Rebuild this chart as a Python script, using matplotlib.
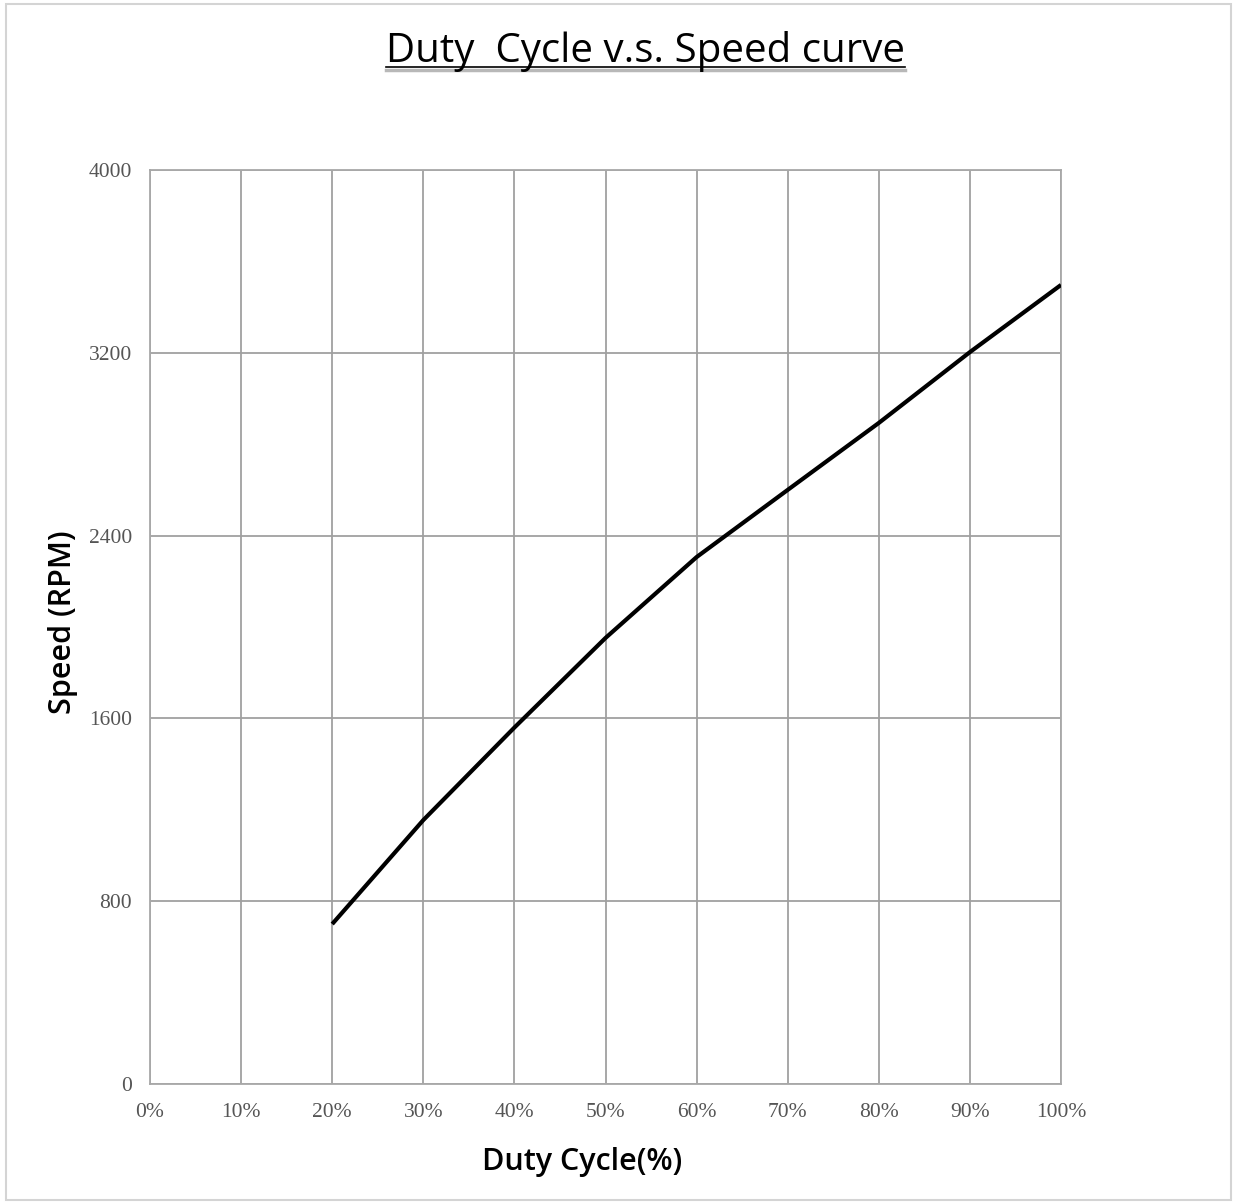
import matplotlib
matplotlib.use("Agg")
import matplotlib.pyplot as plt
from matplotlib.patches import Rectangle
from matplotlib.lines import Line2D

duty = [20, 30, 40, 50, 60, 70, 80, 90, 100]
speed = [700, 1155, 1560, 1952, 2306, 2600, 2893, 3203, 3497]
x_ticks = [0, 10, 20, 30, 40, 50, 60, 70, 80, 90, 100]
x_labels = [f"{v}%" for v in x_ticks]
y_ticks = [0, 800, 1600, 2400, 3200, 4000]

W, H = 1237, 1204
fig = plt.figure(figsize=(W / 100, H / 100), dpi=100)
ax = fig.add_axes([150 / W, (H - 1084) / H, 911 / W, 914 / H])

ax.plot(duty, speed, color="black", lw=3.0, solid_capstyle="butt", zorder=3)
ax.set_xlim(0, 100)
ax.set_ylim(0, 4000)
ax.set_xticks(x_ticks)
ax.set_xticklabels(x_labels)
ax.set_yticks(y_ticks)
ax.tick_params(length=0, labelsize=15.5, labelcolor="#555555")
ax.tick_params(axis="x", pad=13.5)
ax.tick_params(axis="y", pad=13)
for lab in ax.get_xticklabels() + ax.get_yticklabels():
    lab.set_family("Liberation Serif")
ax.grid(True, color="#a0a0a0", lw=1.3)
ax.set_axisbelow(True)
for s in ax.spines.values():
    s.set_color("#a8a8a8")
    s.set_linewidth(1.3)

ax.set_xlabel("Duty Cycle(%)", fontfamily="Open Sans", fontweight="semibold",
              fontsize=22, labelpad=18)
ax.xaxis.set_label_coords((582 - 150) / 911, -(1162 - 1084) / 914)
ax.xaxis.label.set_va("center")
ax.set_ylabel("Speed (RPM)", fontfamily="Open Sans", fontweight="semibold",
              fontsize=22)
ax.yaxis.set_label_coords(-(150 - 63) / 911, (1084 - 622) / 914)
ax.yaxis.label.set_va("center")

title = fig.text(645 / W, 1 - 51 / H, "Duty  Cycle v.s. Speed curve",
                 fontfamily="Open Sans", fontweight="medium", fontsize=29,
                 ha="center", va="center")

fig.canvas.draw()
bb = title.get_window_extent()
x0, x1 = bb.x0 / W, bb.x1 / W
uy = 1 - 67 / H
fig.add_artist(Line2D([x0, x1], [uy - 2.5 / H, uy - 2.5 / H], color="#b8b8b8", lw=2.5,
                      transform=fig.transFigure))
fig.add_artist(Line2D([x0, x1], [uy, uy], color="black", lw=1.2,
                      transform=fig.transFigure))

fig.add_artist(Rectangle((6 / W, 4 / H), (W - 12) / W, (H - 8) / H, fill=False,
                         edgecolor="#d4d4d4", lw=1.5, transform=fig.transFigure))

fig.savefig("out.png", dpi=100)
